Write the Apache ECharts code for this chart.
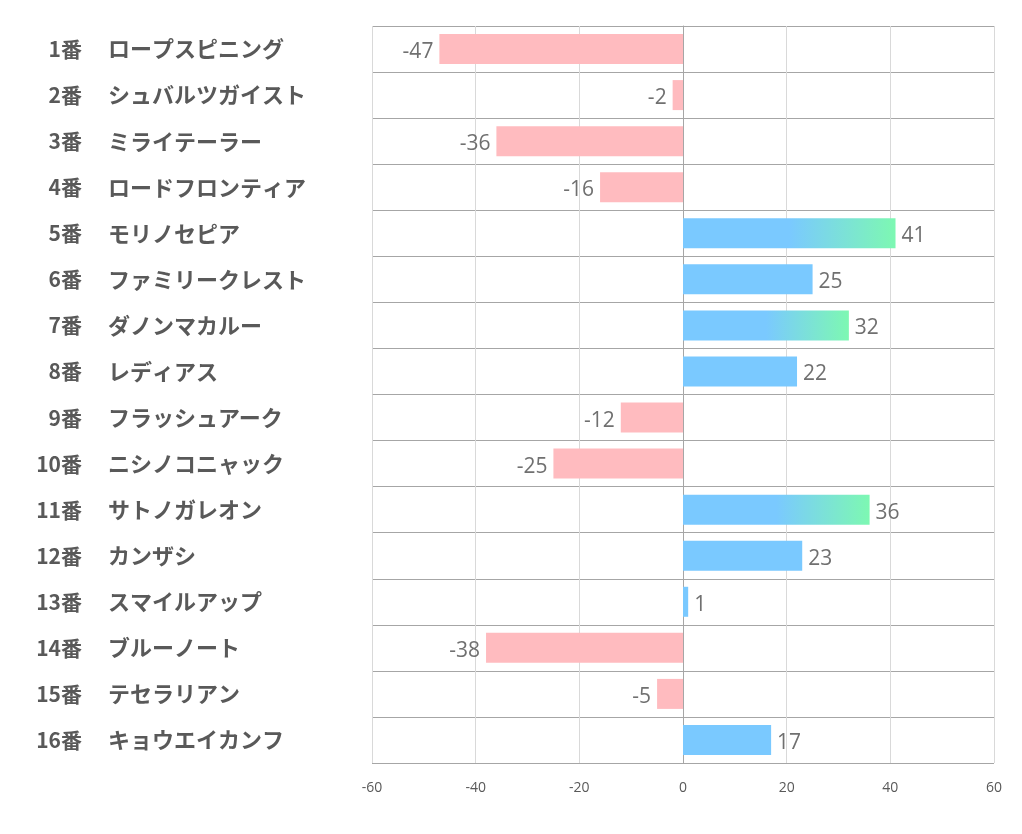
<!DOCTYPE html>
<html><head><meta charset="utf-8">
<script src="https://cdn.jsdelivr.net/npm/echarts@6/dist/echarts.min.js"></script>
<style>html,body{margin:0;padding:0;background:#fff}#c{width:1022px;height:834px}</style>
</head><body><div id="c"></div>
<script>
const numbers = ['1番','2番','3番','4番','5番','6番','7番','8番','9番','10番','11番','12番','13番','14番','15番','16番'];
const names = ['ロープスピニング','シュバルツガイスト','ミライテーラー','ロードフロンティア','モリノセピア','ファミリークレスト','ダノンマカルー','レディアス','フラッシュアーク','ニシノコニャック','サトノガレオン','カンザシ','スマイルアップ','ブルーノート','テセラリアン','キョウエイカンフ'];
const values = [-47,-2,-36,-16,41,25,32,22,-12,-25,36,23,1,-38,-5,17];
const xTicks = [-60,-40,-20,0,20,40,60];

const PINK = '#FFBBBF', BLUE = '#7AC9FF', GREEN = '#7DF8B2';
const LABEL_FONT = '"Noto Sans CJK JP",sans-serif';

function barColor(v){
  if (v < 0) return PINK;
  if (v > 30) return new echarts.graphic.LinearGradient(0,0,1,0,[
    {offset:0,color:BLUE},{offset:0.5,color:BLUE},{offset:1,color:GREEN}]);
  return BLUE;
}

const chart = echarts.init(document.getElementById('c'), null, {renderer:'canvas'});
chart.setOption({
  animation:false,
  grid:{left:372,right:28,top:26,bottom:71,containLabel:false},
  xAxis:{
    type:'value', min:xTicks[0], max:xTicks[xTicks.length-1], interval:20,
    axisLine:{show:false}, axisTick:{show:false},
    splitLine:{show:true,lineStyle:{color:'#D9D9D9',width:1}},
    axisLabel:{color:'#595959',fontSize:14,fontFamily:'"Open Sans","Noto Sans",sans-serif',margin:18}
  },
  yAxis:[{
    type:'category', inverse:true,
    data:numbers,
    axisLine:{show:true,lineStyle:{color:'#A6A6A6'}},
    axisTick:{show:false},
    splitLine:{show:true,lineStyle:{color:'#A6A6A6',width:1}},
    axisLabel:{align:'right', margin:290, fontSize:21, fontWeight:'bold', color:'#595959', fontFamily:LABEL_FONT}
  },{
    type:'category', inverse:true, position:'left',
    data:names,
    axisLine:{show:false}, axisTick:{show:false}, splitLine:{show:false},
    axisLabel:{align:'left', margin:264, fontSize:22, fontWeight:'bold', color:'#595959', fontFamily:LABEL_FONT}
  }],
  series:[{
    type:'bar',
    yAxisIndex:0,
    barWidth:30,
    data: values.map(v=>({value:v,itemStyle:{color:barColor(v)},
      label:{position: v<0?'left':'right'}})),
    label:{show:true,color:'#707070',fontSize:21,fontFamily:'"Open Sans","Noto Sans",sans-serif',distance:6,offset:[0,3]}
  }]
});
</script></body></html>
